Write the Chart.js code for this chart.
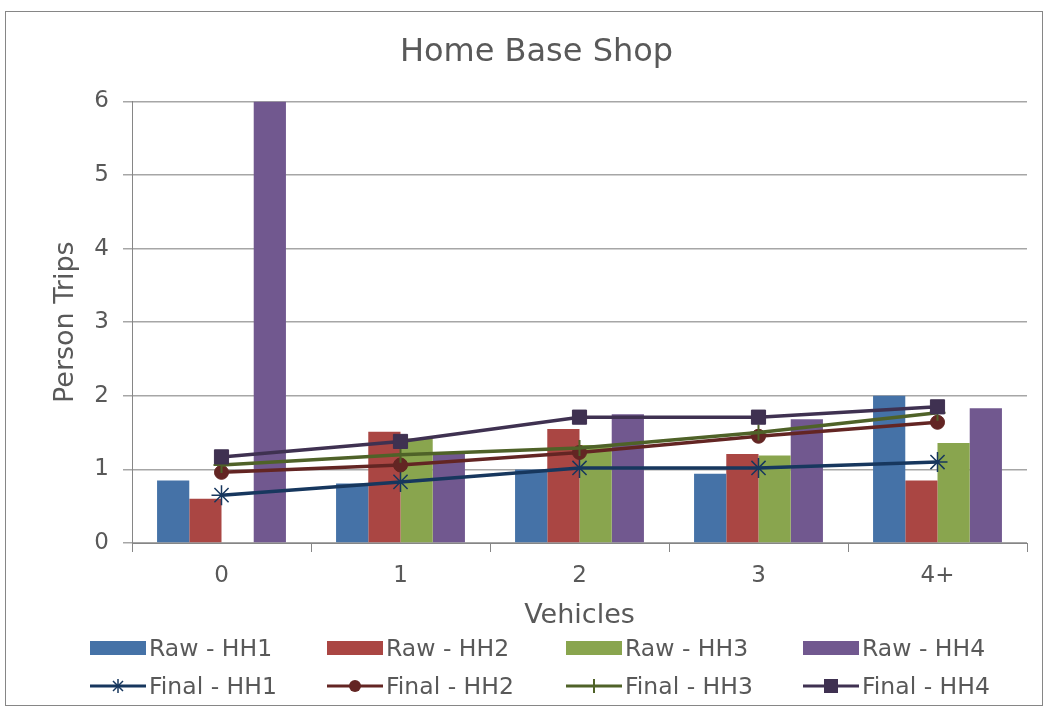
<!DOCTYPE html>
<html>
<head>
<meta charset="utf-8">
<script src="https://cdn.jsdelivr.net/npm/chart.js@4/dist/chart.umd.min.js"></script>
<style>
  html, body { margin: 0; padding: 0; background: #fff; }
  body { width: 1047px; height: 708px; position: relative; overflow: hidden; font-family: "DejaVu Sans", Verdana, sans-serif; }
  #frame { position: absolute; left: 5px; top: 11px; width: 1036px; height: 693px; border: 1px solid #868686; }
  #c { position: absolute; left: 0; top: 0; }
  #legend { position: absolute; left: 90px; top: 633px; width: 950px; display: grid; grid-template-columns: 237px 239px 237px 237px; grid-auto-rows: 38px; }
  .item { display: flex; align-items: center; height: 30px; color: #595959; font-size: 23.5px; white-space: nowrap; }
  .item svg { flex: none; margin-right: 3px; }
</style>
</head>
<body>
<div id="frame"></div>
<canvas id="c" width="1047" height="636"></canvas>
<div id="legend"></div>
<script>
const categories = ['0', '1', '2', '3', '4+'];
const yTicks = [0, 1, 2, 3, 4, 5, 6];
const rawHH1 = [0.85, 0.81, 1.00, 0.94, 2.00];
const rawHH2 = [0.60, 1.51, 1.55, 1.21, 0.85];
const rawHH3 = [0, 1.42, 1.33, 1.19, 1.36];
const rawHH4 = [6.00, 1.23, 1.75, 1.68, 1.83];
const finalHH1 = [0.65, 0.83, 1.02, 1.02, 1.10];
const finalHH2 = [0.96, 1.06, 1.23, 1.45, 1.64];
const finalHH3 = [1.06, 1.20, 1.29, 1.50, 1.77];
const finalHH4 = [1.17, 1.38, 1.71, 1.71, 1.85];

const barColors = ['#4572A7', '#AA4643', '#89A54E', '#71588F'];
const lineColors = ['#17375E', '#632523', '#4F6228', '#3F3151'];
const textColor = '#595959';
const font = '"DejaVu Sans", Verdana, sans-serif';

const barSets = [rawHH1, rawHH2, rawHH3, rawHH4].map((d, i) => ({
  type: 'bar', label: 'Raw - HH' + (i + 1), data: d,
  backgroundColor: barColors[i], borderWidth: 0, order: 2,
  categoryPercentage: 0.72, barPercentage: 1.0
}));
const pointStyles = ['star', 'circle', 'cross', 'rect'];
const pointRadii = [10, 7, 8, 10];
const lineSets = [finalHH1, finalHH2, finalHH3, finalHH4].map((d, i) => ({
  type: 'line', label: 'Final - HH' + (i + 1), data: d,
  borderColor: lineColors[i], backgroundColor: lineColors[i],
  borderWidth: 3.5, pointStyle: pointStyles[i], pointRadius: pointRadii[i],
  pointBorderWidth: i === 0 ? 1.5 : (i === 2 ? 2 : 1), pointBorderColor: lineColors[i],
  pointBackgroundColor: lineColors[i], tension: 0, order: 1 - i * 0.1
}));

new Chart(document.getElementById('c'), {
  type: 'bar',
  data: { labels: categories, datasets: [...barSets, ...lineSets] },
  options: {
    responsive: false, animation: false,
    layout: { padding: { left: 46, right: 20, top: 0, bottom: 0 } },
    plugins: {
      legend: { display: false },
      tooltip: { enabled: false },
      title: { display: true, text: 'Home Base Shop', color: textColor,
        font: { family: font, size: 32, weight: 'normal' }, padding: { top: 33, bottom: 30 } }
    },
    scales: {
      x: {
        grid: { drawOnChartArea: false, drawTicks: true, tickLength: 9, color: '#868686', offset: true },
        border: { color: '#868686', width: 1 },
        ticks: { color: textColor, font: { family: font, size: 23 }, padding: 10 },
        title: { display: true, text: 'Vehicles', color: textColor, font: { family: font, size: 27 }, padding: 4 },
        afterFit: s => { s.height = 93; }
      },
      y: {
        min: 0, max: 6,
        afterBuildTicks: s => { s.ticks = yTicks.map(v => ({ value: v })); },
        grid: { color: '#a6a6a6', lineWidth: 1.5, tickLength: 9 },
        border: { color: '#868686', width: 1 },
        ticks: { color: textColor, font: { family: font, size: 23 }, padding: 14 },
        title: { display: true, text: 'Person Trips', color: textColor, font: { family: font, size: 27 }, padding: 4 },
        afterFit: s => { s.width = 86; }
      }
    }
  }
});

// HTML legend
const leg = document.getElementById('legend');
function svgFor(kind, i) {
  if (kind === 'bar') {
    return `<svg width="56" height="20"><rect x="0" y="3" width="56" height="14" fill="${barColors[i]}"/></svg>`;
  }
  const c = lineColors[i];
  let m = '';
  if (i === 0) m = `<line x1="23" y1="5" x2="33" y2="15" stroke="${c}" stroke-width="1.5"/><line x1="33" y1="5" x2="23" y2="15" stroke="${c}" stroke-width="1.5"/><line x1="28" y1="3" x2="28" y2="17" stroke="${c}" stroke-width="1.5"/>`;
  if (i === 1) m = `<circle cx="28" cy="10" r="6" fill="${c}"/>`;
  if (i === 2) m = `<line x1="28" y1="3" x2="28" y2="17" stroke="${c}" stroke-width="2"/>`;
  if (i === 3) m = `<rect x="21" y="3" width="14" height="14" fill="${c}"/>`;
  return `<svg width="56" height="20"><line x1="0" y1="10" x2="56" y2="10" stroke="${c}" stroke-width="3"/>${m}</svg>`;
}
const items = [];
barSets.forEach((d, i) => items.push(`<div class="item">${svgFor('bar', i)}<span>${d.label}</span></div>`));
lineSets.forEach((d, i) => items.push(`<div class="item">${svgFor('line', i)}<span>${d.label}</span></div>`));
leg.innerHTML = items.join('');
</script>
</body>
</html>
